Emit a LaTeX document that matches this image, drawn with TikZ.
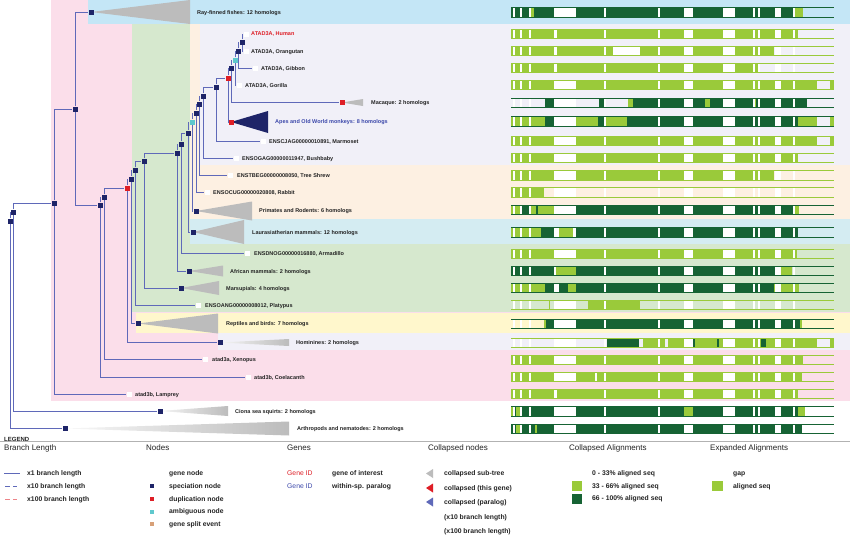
\documentclass[tikz,border=0pt]{standalone}
\usepackage{fontspec}
\setmainfont{Liberation Sans}
\usetikzlibrary{positioning}

\definecolor{navy}{RGB}{30,36,104}
\definecolor{dupred}{RGB}{222,30,38}
\definecolor{ambcyan}{RGB}{95,200,205}
\definecolor{splittan}{RGB}{215,160,120}
\definecolor{branch}{RGB}{95,105,185}
\definecolor{dkg}{RGB}{22,99,52}
\definecolor{ltg}{RGB}{154,202,58}
\definecolor{pinkbg}{RGB}{251,222,234}
\definecolor{fishbg}{RGB}{196,230,246}
\definecolor{greenbg}{RGB}{214,232,206}
\definecolor{orangebg}{RGB}{253,240,226}
\definecolor{lavbg}{RGB}{241,240,248}
\definecolor{laurbg}{RGB}{212,236,242}
\definecolor{yellowbg}{RGB}{255,247,204}
\definecolor{trigray}{RGB}{188,188,188}
\definecolor{geneblue}{RGB}{60,72,170}
\definecolor{textdark}{RGB}{35,35,35}

\pgfdeclarelayer{bg}
\pgfdeclarelayer{edges}
\pgfsetlayers{bg,edges,main}

\tikzset{
  spec/.style={fill=navy,minimum size=5pt,inner sep=0},
  dup/.style={spec,fill=dupred},
  amb/.style={spec,fill=ambcyan},
  leaf/.style={spec,fill=white},
  br/.style={branch,line width=.7pt},
  lbl/.style={anchor=west,inner sep=0,text height=4pt,text depth=0pt,
    font=\fontsize{5.5}{6}\selectfont\bfseries,text=textdark},
  legh/.style={anchor=west,inner sep=0,text height=5.8pt,text depth=0pt,
    font=\fontsize{8}{9}\selectfont,text=textdark},
  legi/.style={anchor=west,inner sep=0,text height=4.8pt,text depth=0pt,
    font=\fontsize{6.8}{8}\selectfont\bfseries,text=textdark},
}

% one alignment bar: y, outline colour, fills, fills put back after the common gaps
\newcommand\alnrow[4]{%
  \foreach \xa/\xb/\cl in {#3} {\fill[\cl] (\xa,#1-4.3) rectangle (\xb,#1+4.3);}
  \foreach \xa/\xb in {513.3/515,520/522,529.3/531.3,554/576,604/606,658/660.3,
      684.3/692.7,723.3/735,753.3/754.7,757.7/760,775.3/780.7,793.3/795}
    {\fill[white] (\xa,#1-4.3) rectangle (\xb,#1+4.3);}
  \foreach \xa/\xb/\cl in {#4} {\fill[\cl] (\xa,#1-4.3) rectangle (\xb,#1+4.3);}
  \draw[#2,line width=.8pt] (511,#1-4.6) -- (834,#1-4.6) (511,#1+4.6) -- (834,#1+4.6);
}

\begin{document}
\begin{tikzpicture}[x=1pt,y=-1pt]
\useasboundingbox (0,0) rectangle (850,538);

\begin{pgfonlayer}{bg}
  \fill[white] (0,0) rectangle (850,538);
  \fill[pinkbg] (51,0) rectangle (850,400.5);
  \fill[fishbg] (88,0) rectangle (850,24);
  \fill[greenbg] (132,24) rectangle (850,312);
  \fill[orangebg] (190,24) rectangle (850,219);
  \fill[lavbg] (200,24) rectangle (850,165);
  \fill[laurbg] (190,219) rectangle (850,244);
  \fill[yellowbg] (136,313) rectangle (850,333);
  \fill[lavbg] (218,333) rectangle (850,350);
\end{pgfonlayer}

% inner nodes
\node[spec] (root) at (10,221) {};
\node[spec] (r1) at (13,212) {};
\node[spec] (cra) at (54,203) {};
\node[spec] (gna) at (75,109) {};
\node[spec] (fish) at (91,12) {};
\node[spec] (sar) at (100,205) {};
\node[spec] (tet) at (104,197) {};
\node[dup] (d1) at (127,188) {};
\node[spec] (amn) at (131,179) {};
\node[spec] (mam) at (135,170) {};
\node[spec] (ther) at (144,161) {};
\node[spec] (eut) at (177,153) {};
\node[spec] (bor) at (181,144) {};
\node[spec] (bor2) at (188,133) {};
\node[amb] (eua) at (192,122) {};
\node[spec] (pr1) at (196,113) {};
\node[spec] (pr2) at (199,104) {};
\node[spec] (pr3) at (203,96) {};
\node[spec] (pr4) at (216,87) {};
\node[dup] (d2) at (228,78) {};
\node[spec] (cat) at (231,68) {};
\node[amb] (hom) at (235,60) {};
\node[spec] (hom2) at (238,51) {};
\node[spec] (hom3) at (242,42) {};

% genes and collapsed clades
\node[leaf] (human) at (246,34) {};
\node[leaf] (orang) at (246,51) {};
\node[leaf] (gibbon) at (255,68) {};
\node[leaf] (gorilla) at (239,85) {};
\node[dup] (macaque) at (342,102.5) {};
\node[dup] (apes) at (231,122) {};
\node[leaf] (marmoset) at (263,141) {};
\node[leaf] (bushbaby) at (236,158) {};
\node[leaf] (treeshrew) at (230,175) {};
\node[leaf] (rabbit) at (207,192) {};
\node[spec] (primrod) at (196,211) {};
\node[spec] (laura) at (193,232) {};
\node[leaf] (armadillo) at (247,253.5) {};
\node[spec] (african) at (189,271) {};
\node[spec] (marsup) at (181,288) {};
\node[leaf] (platypus) at (198,305) {};
\node[spec] (reptiles) at (138,323.5) {};
\node[spec] (hominines) at (220,342.5) {};
\node[leaf] (xenopus) at (205,359.5) {};
\node[leaf] (coela) at (248,377) {};
\node[leaf] (lamprey) at (129,394) {};
\node[spec] (ciona) at (160,411) {};
\node[spec] (arthro) at (65,428.5) {};

\begin{pgfonlayer}{edges}
  \foreach \p/\c in {root/r1,root/arthro,r1/cra,r1/ciona,cra/gna,cra/lamprey,
      gna/fish,gna/sar,sar/tet,sar/coela,tet/d1,tet/xenopus,d1/amn,d1/hominines,
      amn/mam,amn/reptiles,mam/ther,mam/platypus,ther/eut,ther/marsup,
      eut/bor,eut/african,bor/bor2,bor/armadillo,bor2/eua,bor2/laura,
      eua/pr1,eua/primrod,pr1/pr2,pr1/rabbit,pr2/pr3,pr2/treeshrew,
      pr3/pr4,pr3/bushbaby,pr4/d2,pr4/marmoset,d2/cat,d2/apes,
      cat/hom,cat/macaque,hom/hom2,hom/gorilla,hom2/hom3,hom2/gibbon,
      hom3/human,hom3/orang}
    \draw[br] (\p) |- (\c);
  \fill[trigray] (fish.center) -- ++(99,-12) -- ++(0,24) -- cycle;
  \fill[trigray] (macaque.center) -- ++(21,-3.5) -- ++(0,7) -- cycle;
  \fill[navy] (apes.center) -- ++(37,-11) -- ++(0,22) -- cycle;
  \fill[trigray] (primrod.center) -- ++(56,-9.5) -- ++(0,19) -- cycle;
  \fill[trigray] (laura.center) -- ++(51,-12) -- ++(0,24) -- cycle;
  \fill[trigray] (african.center) -- ++(34,-5.5) -- ++(0,11) -- cycle;
  \fill[trigray] (marsup.center) -- ++(38,-7) -- ++(0,14) -- cycle;
  \fill[trigray] (reptiles.center) -- ++(80,-10) -- ++(0,20) -- cycle;
  \shade[left color=trigray!15,right color=trigray] (hominines.center) -- ++(69,-3.5) -- ++(0,7) -- cycle;
  \shade[left color=trigray!15,right color=trigray] (ciona.center) -- ++(68,-5) -- ++(0,10) -- cycle;
  \shade[left color=trigray!10,right color=trigray] (arthro.center) -- ++(224,-7) -- ++(0,14) -- cycle;
\end{pgfonlayer}

\node[lbl] (fish-l) at (197,12.3) {Ray-finned fishes: 12 homologs};
\node[lbl,text=dupred] (human-l) at (251,33.7) {ATAD3A, Human};
\node[lbl] (orang-l) at (251,51) {ATAD3A, Orangutan};
\node[lbl] (gibbon-l) at (261,68) {ATAD3A, Gibbon};
\node[lbl] (gorilla-l) at (245,85) {ATAD3A, Gorilla};
\node[lbl] (macaque-l) at (371,102.5) {Macaque: 2 homologs};
\node[lbl,text=geneblue] (apes-l) at (275,121.5) {Apes and Old World monkeys: 8 homologs};
\node[lbl] (marmoset-l) at (269,141) {ENSCJAG00000010891, Marmoset};
\node[lbl] (bushbaby-l) at (242,158) {ENSOGAG00000011947, Bushbaby};
\node[lbl] (treeshrew-l) at (237,175) {ENSTBEG00000008050, Tree Shrew};
\node[lbl] (rabbit-l) at (213,192.3) {ENSOCUG00000020808, Rabbit};
\node[lbl] (primrod-l) at (259,210.5) {Primates and Rodents: 6 homologs};
\node[lbl] (laura-l) at (252,232.3) {Laurasiatherian mammals: 12 homologs};
\node[lbl] (armadillo-l) at (254,253.5) {ENSDNOG00000016880, Armadillo};
\node[lbl] (african-l) at (230,271) {African mammals: 2 homologs};
\node[lbl] (marsup-l) at (226,288) {Marsupials: 4 homologs};
\node[lbl] (platypus-l) at (205,305) {ENSOANG00000008012, Platypus};
\node[lbl] (reptiles-l) at (226,323.5) {Reptiles and birds: 7 homologs};
\node[lbl] (hominines-l) at (296,342.5) {Hominines: 2 homologs};
\node[lbl] (xenopus-l) at (212,359.5) {atad3a, Xenopus};
\node[lbl] (coela-l) at (254,377) {atad3b, Coelacanth};
\node[lbl] (lamprey-l) at (135,394) {atad3b, Lamprey};
\node[lbl] (ciona-l) at (235,411) {Ciona sea squirts: 2 homologs};
\node[lbl] (arthro-l) at (297,428.5) {Arthropods and nematodes: 2 homologs};

% alignments
\alnrow{12.3}{dkg}{511/795/dkg,795/803/ltg}{531/533.5/ltg}
\alnrow{33.7}{ltg}{511/798/ltg}{557/576/ltg}
\alnrow{51}{ltg}{511/774/ltg,613/640/white}{557/576/ltg}
\alnrow{68}{ltg}{511/758.6/ltg}{557/576/ltg}
\alnrow{85}{ltg}{511/817/ltg,830/834/ltg}{0/0/white}
\alnrow{102.7}{dkg}{545/554/dkg,599/604/dkg,628/633/ltg,633/807/dkg,705/709.5/ltg,754/756/ltg}{0/0/white}
\alnrow{121.3}{dkg}{511/545/ltg,545/554/dkg,576/598/ltg,598/604/dkg,606/627/ltg,627/798/dkg,798/817/ltg,830/834/ltg}{0/0/white}
\alnrow{141}{ltg}{511/817/ltg,830/834/ltg}{0/0/white}
\alnrow{157.7}{ltg}{511/798/ltg}{0/0/white}
\alnrow{175.3}{ltg}{511/774/ltg}{0/0/white}
\alnrow{192.3}{ltg}{511/544/ltg}{0/0/white}
\alnrow{210}{dkg}{511/520/ltg,520/529/dkg,529/554/ltg,536/538/dkg,576/795/dkg,795/799/ltg}{0/0/white}
\alnrow{232.3}{dkg}{511/541/ltg,541/554/dkg,576/798/dkg}{559/573/ltg}
\alnrow{253.7}{ltg}{511/797/ltg}{0/0/white}
\alnrow{270.7}{dkg}{511/554/dkg,576/775/dkg,775/792/ltg}{556/576/ltg}
\alnrow{288}{dkg}{511/545/ltg,545/554/dkg,576/774/dkg,774/799/ltg}{559/568/dkg,568/576/ltg}
\alnrow{305}{ltg}{549/550/ltg,588/640/ltg}{0/0/white}
\alnrow{323.7}{dkg}{544/546/ltg,546/554/dkg,576/800/dkg,800/802/ltg}{0/0/white}
\alnrow{342.7}{ltg}{607/639/dkg,643/665/ltg,668/684/ltg,692.7/695/dkg,695/717/ltg,717/718.5/dkg,718.5/723/ltg,735/761/ltg,761/766/dkg,766/775/ltg,781/817/ltg,829.5/834/ltg}{0/0/white}
\alnrow{360}{ltg}{511/803/ltg}{0/0/white}
\alnrow{376.7}{ltg}{511/802/ltg,594.7/596.7/white}{0/0/white}
\alnrow{394}{ltg}{511/798/ltg}{557/576/ltg}
\alnrow{411.3}{dkg}{511/513/ltg,513/516/dkg,516/520/ltg,520/554/dkg,576/798/dkg,798/805/ltg}{684.3/692.7/ltg}
\alnrow{428.7}{dkg}{511/516/dkg,516/522/ltg,522/535/dkg,535/536.7/ltg,536.7/554/dkg,576/802/dkg}{0/0/white}

% legend
\draw[gray!60,line width=1.5pt] (0,441.5) -- (850,441.5);
\node[anchor=west,inner sep=0,font=\fontsize{6}{7}\selectfont\bfseries,text=textdark] (legend) at (4,439.5) {LEGEND};
\node[legh] (h-branch) at (4,448) {Branch Length};
\node[legh] (h-nodes) at (146,448) {Nodes};
\node[legh] (h-genes) at (287,448) {Genes};
\node[legh] (h-coll) at (428,448) {Collapsed nodes};
\node[legh] (h-calign) at (569,448) {Collapsed Alignments};
\node[legh] (h-ealign) at (710,448) {Expanded Alignments};

\draw[br] (4,473.5) -- (20,473.5);
\draw[br,dash pattern=on 5pt off 3pt] (5,486) -- (17,486);
\draw[dupred!55,line width=.7pt,dash pattern=on 5pt off 3pt] (5,499) -- (17,499);
\node[legi] (k-x1) at (27,473.5) {x1 branch length};
\node[legi] (k-x10) at (27,486) {x10 branch length};
\node[legi] (k-x100) at (27,499) {x100 branch length};

\node[legi] (k-gene) at (169,473.5) {gene node};
\node[spec,minimum size=4pt] (s-spec) at (152,486) {};
\node[legi] (k-spec) at (169,486) {speciation node};
\node[dup,minimum size=4pt] (s-dup) at (152,499) {};
\node[legi] (k-dup) at (169,499) {duplication node};
\node[amb,minimum size=4pt] (s-amb) at (152,511.5) {};
\node[legi] (k-amb) at (169,511.5) {ambiguous node};
\node[spec,fill=splittan,minimum size=4pt] (s-split) at (152,524) {};
\node[legi] (k-split) at (169,524) {gene split event};

\node[legi,font=\fontsize{6.8}{8}\selectfont,text=dupred] (k-gid1) at (287,473.5) {Gene ID};
\node[legi,font=\fontsize{6.8}{8}\selectfont,text=geneblue] (k-gid2) at (287,486) {Gene ID};
\node[legi] (k-goi) at (332,473.5) {gene of interest};
\node[legi] (k-para) at (332,486) {within-sp. paralog};

\fill[trigray] (426,473.5) -- (433,469) -- (433,478) -- cycle;
\fill[dupred] (426,488) -- (433,483.5) -- (433,492.5) -- cycle;
\fill[branch] (426,502) -- (433,497.5) -- (433,506.5) -- cycle;
\node[legi] (k-csub) at (444,473.5) {collapsed sub-tree};
\node[legi] (k-cthis) at (444,488) {collapsed (this gene)};
\node[legi] (k-cpara) at (444,502) {collapsed (paralog)};
\node[legi] (k-c10) at (444,517) {(x10 branch length)};
\node[legi] (k-c100) at (444,531) {(x100 branch length)};

\node[legi] (k-a0) at (592,473.5) {0 - 33\% aligned seq};
\fill[ltg] (572,480.5) rectangle (582,491);
\node[legi] (k-a33) at (592,486) {33 - 66\% aligned seq};
\fill[dkg] (572,493.5) rectangle (582,503.5);
\node[legi] (k-a66) at (592,498.5) {66 - 100\% aligned seq};

\node[legi] (k-gap) at (733,473.5) {gap};
\fill[ltg] (712,480.5) rectangle (722.5,491);
\node[legi] (k-aseq) at (733,486) {aligned seq};
\end{tikzpicture}
\end{document}
